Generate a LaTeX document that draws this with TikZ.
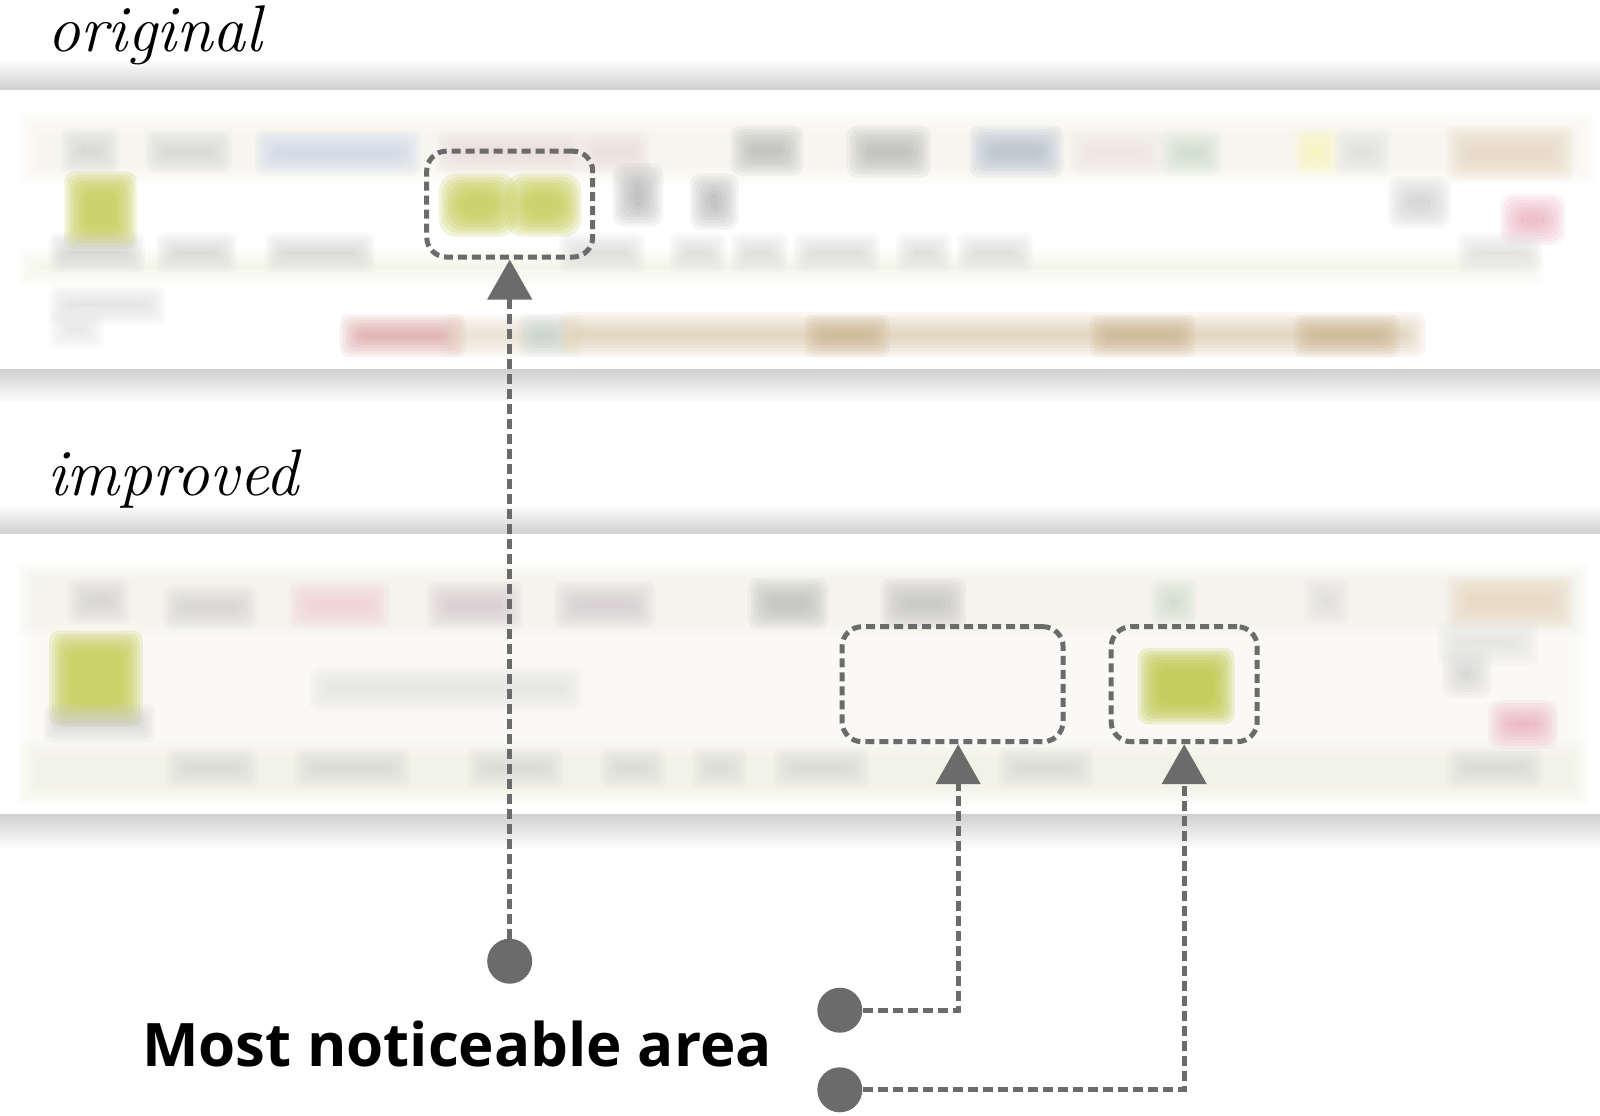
\documentclass[tikz,border=0pt]{standalone}
\usepackage{fontspec}
\newfontfamily\osans{Open Sans}
\usetikzlibrary{arrows.meta}
\definecolor{linegray}{HTML}{6B6B6B}
\definecolor{shadowgray}{HTML}{D0D0D0}
\definecolor{creamA}{HTML}{F9F8F2}
\definecolor{creamB}{HTML}{FAF9F3}
\definecolor{creamC}{HTML}{F5F3EA}
\definecolor{greenline}{HTML}{F1F3E2}
\definecolor{leaf}{HTML}{C7CD58}
\definecolor{leafB}{HTML}{BCC948}
\definecolor{skyblue}{HTML}{C2D0E8}
\definecolor{rosy}{HTML}{E6D6D6}
\definecolor{slate}{HTML}{A4B4C6}
\definecolor{pinkdot}{HTML}{E8A0B4}
\definecolor{redbar}{HTML}{D48C8C}
\definecolor{tanbar}{HTML}{D8C4A2}
\definecolor{tandark}{HTML}{C8AE86}
\definecolor{tealbar}{HTML}{B8D0D0}
\newcommand\sblob[6]{\foreach \k in {-3,-2,-1,0,1,2,3,4}{\fill[#5,fill opacity=0.12,rounded corners=#6] (#1-\k*3,#2-\k*3) rectangle (#3+\k*3,#4+\k*3);}}
\newcommand\gblob[6]{\foreach \k in {-3,-2,-1,0,1,2,3,4}{\fill[#5,fill opacity=0.22,rounded corners=#6] (#1-\k*3,#2-\k*3) rectangle (#3+\k*3,#4+\k*3);}}
\begin{document}
\begin{tikzpicture}[x=1.0204pt,y=-1.0204pt,
  conn/.style={draw=linegray,line width=5pt,dash pattern=on 10pt off 5pt},
  focus/.style={draw=linegray,line width=5pt,dash pattern=on 9pt off 5pt,rounded corners=20pt,inner sep=0pt},
  dot/.style={circle,fill=linegray,minimum size=45pt,inner sep=0pt},
  tip/.style={-{Triangle[length=40pt,width=44pt]}}]
\useasboundingbox[fill=white] (0,0) rectangle (1568,1093);
% band 1
\shade[top color=white,bottom color=shadowgray] (0,58) rectangle (1568,88);
\fill[white] (0,88) rectangle (1568,362);
\shade[top color=shadowgray,bottom color=white] (0,362) rectangle (1568,395);
% band 2
\shade[top color=white,bottom color=shadowgray] (0,494) rectangle (1568,523);
\fill[white] (0,523) rectangle (1568,798);
\shade[top color=shadowgray,bottom color=white] (0,798) rectangle (1568,832);

% screenshot 1
\sblob{30}{122}{1550}{170}{creamC}{4pt}
\sblob{30}{255}{1500}{268}{greenline}{4pt}
\sblob{72}{138}{105}{158}{gray!40}{8pt}
\sblob{155}{140}{215}{158}{gray!40}{8pt}
\sblob{262}{140}{400}{160}{skyblue}{8pt}
\sblob{440}{140}{560}{158}{rosy}{8pt}
\sblob{580}{140}{625}{158}{rosy}{8pt}
\sblob{728}{135}{775}{160}{gray!65}{10pt}
\sblob{842}{135}{900}{162}{gray!65}{10pt}
\sblob{962}{135}{1030}{162}{slate}{10pt}
\sblob{1060}{140}{1130}{160}{rosy!70}{8pt}
\sblob{1150}{140}{1185}{160}{green!20!gray!40}{8pt}
\sblob{1280}{138}{1300}{160}{yellow!35}{8pt}
\sblob{1320}{138}{1350}{160}{gray!30}{8pt}
\sblob{1430}{135}{1530}{165}{creamC!70!brown}{8pt}
\gblob{75}{180}{122}{232}{leaf}{10pt}
\gblob{442}{182}{495}{220}{leaf}{18pt}
\gblob{507}{182}{558}{220}{leaf}{18pt}
\sblob{612}{172}{638}{210}{gray!70}{12pt}
\sblob{688}{182}{712}{213}{gray!70}{11pt}
\sblob{1372}{185}{1410}{212}{gray!45}{12pt}
\sblob{1482}{202}{1522}{228}{pinkdot}{12pt}
\sblob{60}{240}{130}{255}{gray!45}{7pt}
\sblob{165}{240}{220}{255}{gray!40}{7pt}
\sblob{272}{240}{355}{255}{gray!40}{7pt}
\sblob{560}{240}{620}{255}{gray!35}{7pt}
\sblob{668}{240}{700}{255}{gray!35}{7pt}
\sblob{728}{240}{760}{255}{gray!35}{7pt}
\sblob{790}{240}{850}{255}{gray!35}{7pt}
\sblob{890}{240}{920}{255}{gray!35}{7pt}
\sblob{950}{240}{1000}{255}{gray!35}{7pt}
\sblob{1440}{240}{1500}{255}{gray!30}{7pt}
\sblob{60}{292}{150}{306}{gray!30}{7pt}
\sblob{60}{316}{90}{330}{gray!25}{7pt}
\sblob{345}{320}{445}{338}{redbar}{9pt}
\sblob{445}{320}{560}{338}{tanbar!70}{9pt}
\sblob{520}{320}{545}{338}{tealbar}{9pt}
\sblob{560}{318}{1385}{338}{tanbar}{9pt}
\sblob{800}{320}{860}{338}{tandark}{9pt}
\sblob{1080}{320}{1160}{338}{tandark}{9pt}
\sblob{1280}{320}{1360}{338}{tandark}{9pt}

% screenshot 2
\sblob{30}{562}{1545}{778}{creamB}{4pt}
\sblob{30}{565}{1545}{612}{creamC}{4pt}
\sblob{30}{738}{1545}{775}{greenline}{4pt}
\sblob{78}{578}{115}{600}{gray!40}{8pt}
\sblob{172}{585}{240}{605}{gray!40}{8pt}
\sblob{295}{582}{370}{605}{pinkdot!60}{8pt}
\sblob{430}{582}{500}{605}{violet!20!gray!40}{8pt}
\sblob{555}{582}{630}{605}{violet!15!gray!40}{8pt}
\sblob{745}{578}{800}{605}{gray!60}{10pt}
\sblob{875}{578}{935}{605}{gray!55}{10pt}
\sblob{1140}{580}{1160}{600}{green!20!gray!40}{8pt}
\sblob{1290}{578}{1310}{600}{gray!30}{8pt}
\sblob{1430}{575}{1530}{605}{creamC!70!brown}{8pt}
\gblob{60}{630}{128}{700}{leaf}{10pt}
\sblob{55}{702}{140}{715}{gray!45}{6pt}
\sblob{315}{665}{560}{685}{gray!25}{8pt}
\sblob{845}{630}{1040}{720}{white}{8pt}
\gblob{1127}{647}{1198}{698}{leafB}{10pt}
\sblob{1425}{648}{1450}{672}{gray!40}{11pt}
\sblob{1470}{698}{1515}{722}{pinkdot}{12pt}
\sblob{1420}{620}{1495}{640}{gray!25}{8pt}
\sblob{175}{745}{240}{760}{gray!35}{7pt}
\sblob{300}{745}{390}{760}{gray!35}{7pt}
\sblob{470}{745}{540}{760}{gray!35}{7pt}
\sblob{600}{745}{640}{760}{gray!35}{7pt}
\sblob{690}{745}{720}{760}{gray!35}{7pt}
\sblob{770}{745}{840}{760}{gray!35}{7pt}
\sblob{990}{745}{1060}{760}{gray!35}{7pt}
\sblob{1430}{745}{1500}{760}{gray!35}{7pt}

% titles
\node[anchor=base west,inner sep=0pt,font=\fontsize{66}{72}\selectfont\itshape] (orig) at (46,50) {original};
\node[anchor=base west,inner sep=0pt,font=\fontsize{66}{72}\selectfont\itshape] (impr) at (46,486) {improved};

% focus boxes
\node[focus,minimum width=166pt,minimum height=106pt] (boxA) at (499.5,200) {};
\node[focus,minimum width=221pt,minimum height=115pt] (boxB) at (933.5,670.5) {};
\node[focus,minimum width=146pt,minimum height=115pt] (boxC) at (1160.5,670.5) {};

% dots
\node[dot] (dotA) at (499.5,942) {};
\node[dot] (dotB) at (823,990) {};
\node[dot] (dotC) at (823,1068) {};

% label
\node[anchor=base west,inner sep=0pt,font=\osans\bfseries\fontsize{60}{68}\selectfont] (lbl) at (139,1045) {Most noticeable area};

% connectors
\draw[conn,tip] (dotA) -- (boxA);
\draw[conn,tip] (dotB) -| ([xshift=5.6pt]boxB.south);
\draw[conn,tip] (dotC) -| (boxC.south);
\end{tikzpicture}
\end{document}
